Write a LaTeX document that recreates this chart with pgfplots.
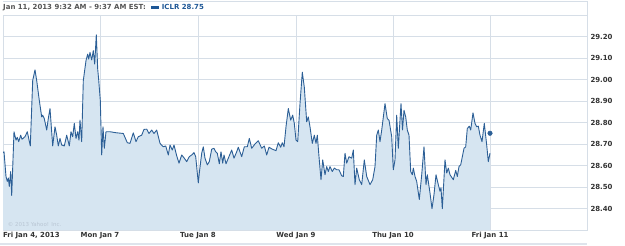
\documentclass[border=0pt]{standalone}
\usepackage{pgfplots}
\pgfplotsset{compat=1.18}
\usepackage{fontspec}
\setmainfont{DejaVu Sans}
\definecolor{linec}{RGB}{44,95,150}
\definecolor{fillc}{RGB}{214,229,241}
\definecolor{gridc}{RGB}{214,222,231}
\definecolor{labc}{RGB}{51,51,51}
\definecolor{headc}{RGB}{85,85,85}
\definecolor{blueh}{RGB}{30,87,150}
\definecolor{copyc}{RGB}{185,198,212}
\begin{document}
\pgfplotstableread{
px v
3 28.66
4 28.664
6 28.549
7.3 28.526
8.3 28.542
9.3 28.503
10.7 28.572
11.7 28.461
14 28.757
16 28.718
17.3 28.731
18.7 28.711
20.7 28.741
22 28.722
25 28.734
27.3 28.757
30.3 28.691
32.7 28.995
35 29.045
36.7 28.995
39.3 28.903
41.7 28.826
42.7 28.834
44.3 28.818
46.7 28.765
48.3 28.818
50 28.865
52.7 28.691
55 28.780
56.7 28.741
58.3 28.691
60 28.726
61.7 28.695
64.3 28.691
66.7 28.741
69.3 28.691
71 28.757
72.7 28.734
74.3 28.796
76 28.726
77.7 28.757
79 28.718
80 28.811
81.7 28.711
83.3 28.995
86 29.088
87.7 29.118
88.7 29.095
90 29.126
91.7 29.091
93.3 29.134
94.7 29.072
96.3 29.208
97.7 29.049
98.7 28.998
100.3 28.903
101.7 28.649
103 28.780
104.3 28.680
106 28.757
110 28.757
116.7 28.752
123.3 28.749
127.3 28.706
130 28.703
133.3 28.752
136 28.711
138.3 28.734
141.7 28.741
144 28.768
146.7 28.769
149 28.749
151.7 28.765
154 28.749
156.7 28.765
160 28.703
163.3 28.687
165.7 28.691
168.3 28.649
170 28.695
172.3 28.672
174 28.695
176.7 28.645
179 28.611
181.7 28.649
184.3 28.634
186.7 28.618
189.3 28.641
191.7 28.649
194 28.660
195.7 28.641
198.3 28.519
199.3 28.565
201.7 28.657
203.3 28.687
205 28.634
207.3 28.603
209.3 28.618
211.7 28.676
214 28.680
215.7 28.664
217.3 28.657
219.3 28.608
221 28.664
222.7 28.611
224 28.649
226 28.608
228.3 28.634
231.7 28.672
234 28.634
236.7 28.664
238.3 28.685
241.7 28.641
244.3 28.687
247.3 28.687
249.3 28.726
251.7 28.680
255 28.700
258.3 28.715
261.7 28.680
264.3 28.691
266.7 28.649
269 28.685
272.3 28.676
276 28.669
278.3 28.706
280.7 28.685
282.3 28.706
284 28.687
286 28.780
288.3 28.865
290.7 28.811
292.7 28.834
294.3 28.796
296 28.718
297.7 28.711
300 28.888
302.3 29.034
304.3 28.964
306.7 28.803
308.3 28.826
310 28.780
312.3 28.703
314.3 28.741
316 28.703
317.3 28.741
319 28.641
321 28.534
322.7 28.626
325 28.557
326.7 28.595
328.3 28.572
330 28.595
332.3 28.572
334.3 28.588
336.7 28.580
339 28.580
341.7 28.552
343.3 28.549
345 28.657
346.7 28.611
349 28.641
351.7 28.634
353.3 28.672
355 28.511
356.7 28.588
359.3 28.534
361.7 28.511
364.3 28.626
366.7 28.549
370 28.511
372.7 28.534
375 28.595
376.7 28.741
378.3 28.765
380 28.711
381.7 28.765
385 28.888
387.3 28.818
389 28.811
391.7 28.734
393.3 28.580
395 28.626
396.7 28.834
398.3 28.680
401 28.888
402.5 28.765
404 28.857
405.7 28.826
407.3 28.765
409 28.741
410.7 28.572
412.3 28.557
413.3 28.588
415 28.549
416.7 28.526
419.3 28.442
421.7 28.557
424 28.687
426 28.511
427.3 28.557
430 28.472
432 28.399
434 28.465
436 28.557
438.3 28.511
440 28.480
441 28.496
442.3 28.399
445 28.626
446.7 28.565
448.3 28.588
450 28.557
453.3 28.534
455.7 28.577
457.3 28.549
459 28.595
460.7 28.603
464 28.680
465.7 28.687
467.3 28.772
469.3 28.783
470.7 28.765
473 28.845
475 28.796
476.7 28.780
478.3 28.783
480 28.741
482 28.711
484.3 28.796
486.7 28.695
488.3 28.618
490 28.657
}\pricedata
\begin{tikzpicture}[font=\fontsize{7}{8}\selectfont\bfseries]
\begin{axis}[
  name=ax,
  scale only axis,
  width=584bp, height=215bp,
  xmin=3, xmax=587, ymin=28.3, ymax=29.3,
  axis line style={draw=gridc},
  grid=major,
  grid style={draw=gridc, line width=0.8pt},
  major tick length=0pt,
  xtick={3,100,198,296,393,490},
  xticklabels={\makebox[0pt][l]{Fri Jan 4, 2013},Mon Jan 7,Tue Jan 8,Wed Jan 9,Thu Jan 10,Fri Jan 11},
  xticklabel style={text=labc, yshift=1bp},
  ytick={28.4,28.5,28.6,28.7,28.8,28.9,29.0,29.1,29.2},
  yticklabels={28.40,28.50,28.60,28.70,28.80,28.90,29.00,29.10,29.20},
  yticklabel pos=right,
  yticklabel style={text=labc, anchor=west, xshift=0bp},
  clip=true,
]
\addplot[fill=fillc, draw=none, forget plot] table[x=px,y=v] {\pricedata} \closedcycle;
\addplot[color=linec, line width=0.9pt, line join=round] table[x=px,y=v] {\pricedata};
\addplot[only marks, mark=*, mark size=2.3pt, color=linec] coordinates {(490,28.75)};
\node[anchor=south west, font=\fontsize{5.5}{6}\selectfont\mdseries, text=copyc, inner sep=0pt] at (rel axis cs:0.008,0.014) {\textcopyright{} 2013 Yahoo! Inc.};
\end{axis}
\draw[gridc, line width=0.8pt] ([yshift=14bp]ax.north west) -- ([yshift=14bp]ax.north east) -- (ax.north east);
\draw[gridc!80!white, line width=1.5pt] ([xshift=-3bp,yshift=-14bp]ax.south west) -- ([yshift=-14bp]ax.south east);
\node[anchor=west, inner sep=0pt, text=headc] at ([xshift=0bp,yshift=7bp]ax.north west) {Jan 11, 2013 9:32 AM - 9:37 AM EST:\hspace{5bp}\textcolor{blueh}{\rule[0.2ex]{8bp}{3bp}}\hspace{3bp}\textcolor{blueh}{ICLR 28.75}};
\pgfresetboundingbox
\path[use as bounding box] ([xshift=-3bp,yshift=-16bp]ax.south west) rectangle ([xshift=38bp,yshift=15bp]ax.north east);
\end{tikzpicture}
\end{document}
